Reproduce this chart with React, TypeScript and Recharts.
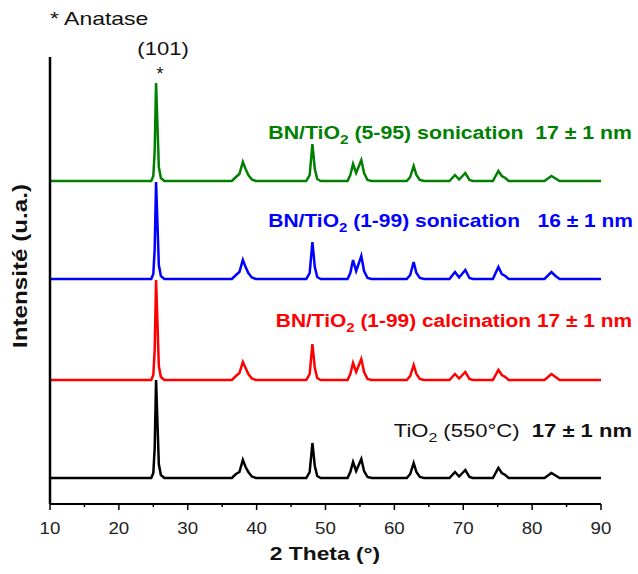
import { LineChart, Line, XAxis, YAxis } from 'recharts'

// XRD patterns: [2θ, intensity] pairs (a.u.), each pattern stacked with its own offset
const tio2: [number, number][] = [
  [10, 0], [24.7, 0], [25.0, 50], [25.2, 300], [25.4, 980], [25.6, 560], [25.8, 140], [26.1, 30], [26.6, 0],
  [36.4, 0], [37.0, 40], [37.5, 60], [38.0, 180], [38.4, 110], [38.8, 60], [39.3, 15], [39.9, 0],
  [47.2, 0], [47.7, 60], [48.1, 350], [48.45, 120], [48.8, 20], [49.3, 0],
  [53.2, 0], [53.6, 60], [54.0, 160], [54.45, 70], [55.2, 190], [55.6, 70], [56.1, 10], [56.7, 0],
  [61.8, 0], [62.3, 40], [62.8, 150], [63.2, 60], [63.7, 10], [64.3, 0],
  [68.0, 0], [68.8, 60], [69.4, 15], [70.3, 80], [70.9, 10], [71.4, 0],
  [74.3, 0], [75.1, 100], [75.6, 50], [76.1, 30], [76.6, 0],
  [81.8, 0], [82.8, 50], [83.4, 25], [84.0, 0], [90, 0],
]
const calcination: [number, number][] = [
  [10, 0], [24.7, 0], [25.0, 50], [25.2, 300], [25.4, 1000], [25.6, 580], [25.8, 140], [26.1, 30], [26.6, 0],
  [36.4, 0], [37.0, 40], [37.5, 70], [38.0, 180], [38.4, 120], [38.8, 60], [39.3, 15], [39.9, 0],
  [47.2, 0], [47.7, 60], [48.1, 360], [48.45, 120], [48.8, 20], [49.3, 0],
  [53.2, 0], [53.6, 60], [54.0, 170], [54.45, 80], [55.2, 210], [55.6, 80], [56.1, 10], [56.7, 0],
  [61.8, 0], [62.3, 40], [62.8, 150], [63.2, 60], [63.7, 10], [64.3, 0],
  [68.0, 0], [68.8, 60], [69.4, 15], [70.3, 80], [70.9, 10], [71.4, 0],
  [74.3, 0], [75.1, 100], [75.6, 50], [76.1, 30], [76.6, 0],
  [81.8, 0], [82.8, 60], [83.4, 30], [84.0, 0], [90, 0],
]
const sonic199: [number, number][] = [
  [10, 0], [24.7, 0], [25.0, 50], [25.2, 300], [25.4, 970], [25.6, 560], [25.8, 140], [26.1, 30], [26.6, 0],
  [36.4, 0], [37.0, 40], [37.5, 70], [38.0, 190], [38.4, 120], [38.8, 60], [39.3, 15], [39.9, 0],
  [47.2, 0], [47.7, 60], [48.1, 370], [48.45, 120], [48.8, 20], [49.3, 0],
  [53.2, 0], [53.6, 60], [54.0, 190], [54.45, 80], [55.2, 230], [55.6, 80], [56.1, 10], [56.7, 0],
  [61.8, 0], [62.3, 40], [62.8, 170], [63.2, 60], [63.7, 10], [64.3, 0],
  [68.0, 0], [68.8, 70], [69.4, 15], [70.3, 90], [70.9, 10], [71.4, 0],
  [74.3, 0], [75.1, 120], [75.6, 50], [76.1, 30], [76.6, 0],
  [81.8, 0], [82.8, 70], [83.4, 30], [84.0, 0], [90, 0],
]
const sonic595: [number, number][] = [
  [10, 0], [24.7, 0], [25.0, 50], [25.2, 300], [25.4, 980], [25.6, 560], [25.8, 140], [26.1, 30], [26.6, 0],
  [36.4, 0], [37.0, 40], [37.5, 70], [38.0, 190], [38.4, 120], [38.8, 60], [39.3, 15], [39.9, 0],
  [47.2, 0], [47.7, 60], [48.1, 370], [48.45, 120], [48.8, 20], [49.3, 0],
  [53.2, 0], [53.6, 60], [54.0, 170], [54.45, 80], [55.2, 210], [55.6, 80], [56.1, 10], [56.7, 0],
  [61.8, 0], [62.3, 40], [62.8, 150], [63.2, 60], [63.7, 10], [64.3, 0],
  [68.0, 0], [68.8, 60], [69.4, 15], [70.3, 80], [70.9, 10], [71.4, 0],
  [74.3, 0], [75.1, 100], [75.6, 50], [76.1, 30], [76.6, 0],
  [81.8, 0], [82.8, 50], [83.4, 25], [84.0, 0], [90, 0],
]

const patterns = [tio2, calcination, sonic199, sonic595]
const offsets = [260, 1240, 2250, 3230]
const colors = ['#000000', '#ff0000', '#0000ff', '#008000']
const xTicks = [10, 15, 20, 25, 30, 35, 40, 45, 50, 55, 60, 65, 70, 75, 80, 85, 90]

const series = patterns.map((p, i) => p.map(([x, v]) => ({ x, y: v + offsets[i] })))

const FONT = '"Liberation Sans", Arial, sans-serif'

// text stretched horizontally a bit, the source figure uses a wider face
function SText({ x, y, sx, anchor = 'start', rotate = 0, children, ...rest }: any) {
  return (
    <g transform={`translate(${x} ${y}) rotate(${rotate}) scale(${sx} 1)`}>
      <text x={0} y={0} textAnchor={anchor} {...rest}>{children}</text>
    </g>
  )
}

function XTick(props: any) {
  const { x, y, payload } = props
  const major = payload.value % 10 === 0
  return (
    <g>
      <line x1={x} x2={x} y1={y} y2={y + (major ? 6 : 3)} stroke="#000" strokeWidth={1.5} />
      {major && (
        <SText x={x} y={y + 30} sx={1.1} anchor="middle" fontSize={17} fontFamily={FONT} fill="#222">
          {payload.value}
        </SText>
      )}
    </g>
  )
}

function Sub({ children }: { children: string }) {
  return <tspan dy={5} fontSize="0.72em">{children}</tspan>
}

export default function App() {
  return (
    <div style={{ position: 'absolute', left: 0, top: 0, width: 638, height: 574, background: '#fff' }}>
      <LineChart width={638} height={574} margin={{ top: 57, right: 37, bottom: 40, left: 30 }}>
        <XAxis
          type="number" dataKey="x" domain={[10, 90]} ticks={xTicks} interval={0}
          axisLine={{ stroke: '#000', strokeWidth: 2 }} tickLine={false} tickSize={0} tickMargin={0}
          tick={<XTick />} height={30}
        />
        <YAxis
          type="number" domain={[0, 4470]} width={20} tick={false} tickLine={false}
          axisLine={{ stroke: '#000', strokeWidth: 2.5 }}
        />
        {series.map((d, i) => (
          <Line key={i} data={d} dataKey="y" type="linear" stroke={colors[i]} strokeWidth={2.5}
            dot={false} isAnimationActive={false} />
        ))}
      </LineChart>
      <svg width={638} height={574} style={{ position: 'absolute', left: 0, top: 0, pointerEvents: 'none' }}
        fontFamily={FONT}>
        <SText x={50} y={25} sx={1.21} fontSize={19} fill="#111">* Anatase</SText>
        <SText x={163} y={55} sx={1.16} fontSize={19} fill="#111" anchor="middle">(101)</SText>
        <text x={160} y={80} fontSize={18} fill="#111" textAnchor="middle">*</text>

        <SText x={632} y={139} sx={1.12} fontSize={19} fontWeight="bold" fill="#008000" anchor="end">
          BN/TiO<Sub>2</Sub><tspan dy={-5}> (5-95) sonication{'\u00a0\u00a0'}17 ± 1 nm</tspan>
        </SText>
        <SText x={633} y={227} sx={1.105} fontSize={19} fontWeight="bold" fill="#0000ff" anchor="end">
          BN/TiO<Sub>2</Sub><tspan dy={-5}> (1-99) sonication{'\u00a0\u00a0\u00a0'}16 ± 1 nm</tspan>
        </SText>
        <SText x={632} y={327} sx={1.1} fontSize={19} fontWeight="bold" fill="#ff0000" anchor="end">
          BN/TiO<Sub>2</Sub><tspan dy={-5}> (1-99) calcination 17 ± 1 nm</tspan>
        </SText>
        <SText x={632} y={437} sx={1.16} fontSize={19} fill="#111" anchor="end">
          TiO<Sub>2</Sub><tspan dy={-5}> (550°C){'\u00a0\u00a0'}</tspan><tspan fontWeight="bold">17 ± 1 nm</tspan>
        </SText>

        <SText x={325} y={560} sx={1.2} fontSize={19} fontWeight="bold" fill="#111" anchor="middle">2 Theta (°)</SText>
        <SText x={27} y={266} rotate={-90} sx={1.21} fontSize={20} fontWeight="bold" fill="#111" anchor="middle">
          Intensité (u.a.)
        </SText>
      </svg>
    </div>
  )
}
